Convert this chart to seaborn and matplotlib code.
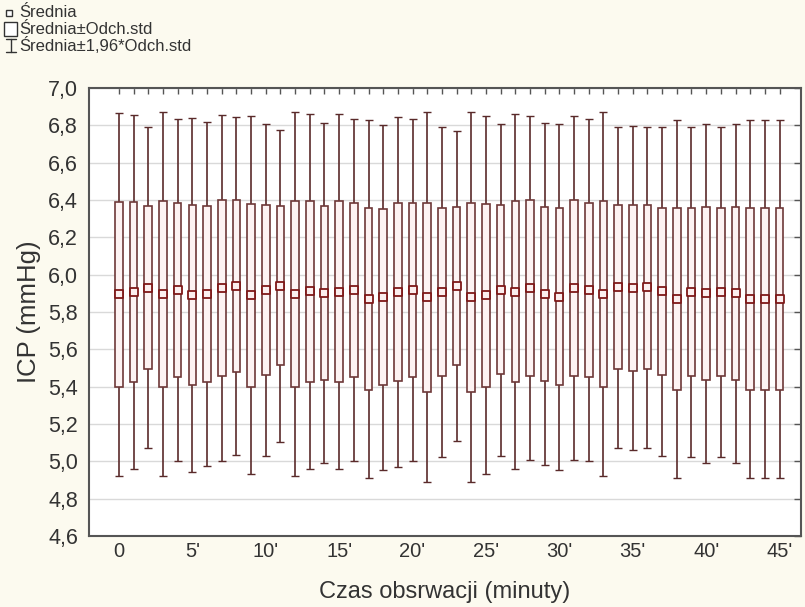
import numpy as np
import pandas as pd
import matplotlib
matplotlib.use("Agg")
import matplotlib.pyplot as plt
import seaborn as sns
from matplotlib.lines import Line2D
from matplotlib.patches import Rectangle
from matplotlib.ticker import FuncFormatter, FixedLocator

# Observation minute for each measurement window
minutes = list(range(46))

# Mean ICP (mmHg) per minute
mean_icp = [5.895, 5.907, 5.931, 5.896, 5.918, 5.890, 5.896, 5.928, 5.939, 5.890,
            5.918, 5.940, 5.898, 5.910, 5.901, 5.908, 5.918, 5.870, 5.879, 5.907,
            5.918, 5.879, 5.908, 5.940, 5.879, 5.889, 5.919, 5.908, 5.929, 5.896,
            5.882, 5.929, 5.918, 5.896, 5.932, 5.929, 5.932, 5.910, 5.870, 5.908,
            5.900, 5.908, 5.900, 5.870, 5.870, 5.870]

# Standard deviation of ICP (mmHg) per minute
sd_icp = [0.496, 0.484, 0.438, 0.497, 0.468, 0.483, 0.470, 0.472, 0.462, 0.490,
          0.454, 0.426, 0.498, 0.486, 0.465, 0.485, 0.468, 0.489, 0.471, 0.478,
          0.468, 0.506, 0.451, 0.424, 0.506, 0.489, 0.453, 0.485, 0.471, 0.468,
          0.473, 0.471, 0.468, 0.497, 0.439, 0.443, 0.439, 0.449, 0.489, 0.451,
          0.464, 0.451, 0.464, 0.489, 0.489, 0.489]

labeled_minutes = [0, 5, 10, 15, 20, 25, 30, 35, 40, 45]
tick_labels = ["0", "5'", "10'", "15'", "20'", "25'", "30'", "35'", "40'", "45'"]

y_ticks = [4.6, 4.8, 5.0, 5.2, 5.4, 5.6, 5.8, 6.0, 6.2, 6.4, 6.6, 6.8, 7.0]

legend_labels = ["Średnia", "Średnia±Odch.std", "Średnia±1,96*Odch.std"]

df = pd.DataFrame({"minute": minutes, "mean": mean_icp, "sd": sd_icp})
df["low"] = df["mean"] - df["sd"]
df["ci"] = 1.96 * df["sd"]

sns.set_style("white")
plt.rcParams["font.family"] = ["Liberation Sans", "DejaVu Sans"]

BG = "#fcfaef"
BOX_EDGE = "#6e3838"
WHISKER = "#5a2a2a"
MEAN_EDGE = "#7e1818"
TEXT = "#333333"
W, H = 805, 607

fig = plt.figure(figsize=(W / 100, H / 100), dpi=100, facecolor=BG)
ax = fig.add_axes([89 / W, 1 - 536 / H, (801 - 89) / W, (536 - 88) / H])
ax.set_facecolor("white")

# whiskers: mean ± 1.96 SD
ax.errorbar(df["minute"], df["mean"], yerr=df["ci"], fmt="none",
            ecolor=WHISKER, elinewidth=1.2, capsize=2.6, capthick=1.0, zorder=2)

# boxes: mean ± SD
ax.bar(df["minute"], 2 * df["sd"], bottom=df["low"], width=0.52,
       color="#fdf3f3", edgecolor=BOX_EDGE, linewidth=1.2, zorder=3)

# mean markers
sns.scatterplot(data=df, x="minute", y="mean", marker="s", s=28,
                color="#fbeeee", edgecolor=MEAN_EDGE, linewidth=1.3,
                zorder=4, ax=ax, legend=False)

ax.set_xlim(-2.04, 46.46)
ax.set_ylim(4.6, 7.0)
ax.yaxis.set_major_locator(FixedLocator(y_ticks))
ax.yaxis.set_major_formatter(FuncFormatter(lambda v, p: f"{v:.1f}".replace(".", ",")))
ax.set_xticks(labeled_minutes)
ax.set_xticklabels(tick_labels)
ax.set_xticks(minutes, minor=True)

ax.grid(axis="y", color="#d9d9d9", linewidth=1.0, zorder=0)
ax.set_axisbelow(True)

for s in ax.spines.values():
    s.set_visible(True)
    s.set_color("#555555")
    s.set_linewidth(1.5)

ax.tick_params(axis="both", which="both", direction="in", colors="#555555",
               labelcolor=TEXT, top=True, right=True)
ax.tick_params(axis="x", which="both", length=4, width=1.0, labelsize=14.5, pad=4)
ax.tick_params(axis="y", which="major", length=5, width=1.0, labelsize=15.5, pad=8)

ax.set_xlabel("Czas obsrwacji (minuty)", fontsize=17, color=TEXT, labelpad=15)
ax.set_ylabel("ICP (mmHg)", fontsize=18.5, color=TEXT, labelpad=5)

# key in the upper-left corner of the figure (pixel positions)
def fx(px):
    return px / W

def fy(py):
    return 1 - py / H

key_color = "#333333"
fig.add_artist(Rectangle((fx(6), fy(16)), fx(12) - fx(6), fy(10) - fy(16),
                         transform=fig.transFigure, facecolor="white",
                         edgecolor=key_color, linewidth=1.0))
fig.add_artist(Rectangle((fx(4), fy(36)), fx(17) - fx(4), fy(22) - fy(36),
                         transform=fig.transFigure, facecolor="white",
                         edgecolor=key_color, linewidth=1.0))
for xs, ys in [([6, 16], [39, 39]), ([11, 11], [39, 52]), ([6, 16], [52, 52])]:
    fig.add_artist(Line2D([fx(v) for v in xs], [fy(v) for v in ys],
                          transform=fig.transFigure, color=key_color, linewidth=1.0))
for label, py in zip(legend_labels, [12.5, 29, 45.5]):
    fig.text(fx(19), fy(py), label, fontsize=12, color=TEXT,
             ha="left", va="center")

fig.savefig("out.png", dpi=100, facecolor=BG)
